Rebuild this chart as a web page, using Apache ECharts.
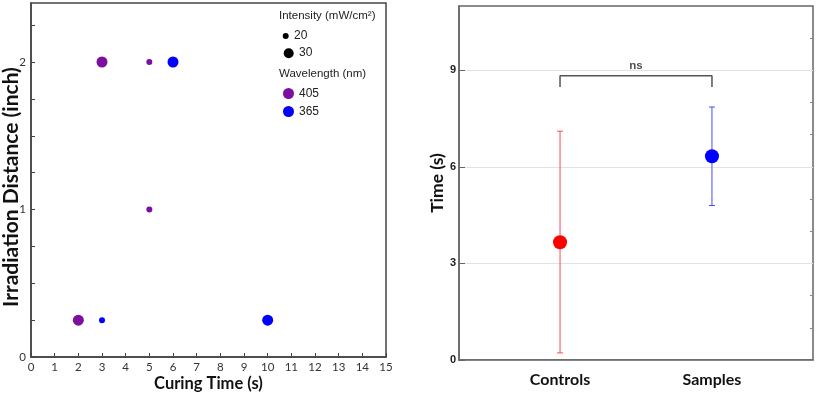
<!DOCTYPE html>
<html>
<head>
<meta charset="utf-8">
<script src="https://cdn.jsdelivr.net/npm/echarts@6/dist/echarts.min.js"></script>
<style>
  html, body { margin: 0; padding: 0; background: #fff; }
  #main { width: 817px; height: 396px; }
</style>
</head>
<body>
<div id="main"></div>
<script>
  // left panel: curing conditions
  var curingTime405 = [3, 5, 5, 2];
  var distance405   = [2, 2, 1, 0.25];
  var intensity405  = [30, 20, 20, 30];
  var curingTime365 = [6, 3, 10];
  var distance365   = [2, 0.25, 0.25];
  var intensity365  = [30, 20, 30];
  var wavelengths   = ['405', '365'];
  var intensities   = ['20', '30'];
  var xTicksLeft    = [0, 1, 2, 3, 4, 5, 6, 7, 8, 9, 10, 11, 12, 13, 14, 15];
  var yLabelsLeft   = [0, 1, 2];
  var yTicksLeft    = [0, 0.25, 0.5, 0.75, 1, 1.25, 1.5, 1.75, 2, 2.25];

  // right panel: time per group
  var groups     = ['Controls', 'Samples'];
  var means      = [3.66, 6.33];
  var lowerBound = [0.22, 4.80];
  var upperBound = [7.11, 7.86];
  var yLabelsRight = [0, 3, 6, 9];
  var yMinorRight  = [1, 2, 4, 5, 7, 8, 10];
  var bracketLeg = 8.48, bracketTop = 8.83, sigY = 9.14, sigText = 'ns';

  var purple = '#7b0fa0', blue = '#0000ff';
  var groupColors = ['#ff0000', '#0000ff'];
  var barColors = ['#ff4a4a', '#4a4aff'];

  function zip(xs, ys, zs) {
    return xs.map(function (x, i) { return [x, ys[i], zs[i]]; });
  }
  function dotSize(d) { return d[2] == 30 ? 11 : 6; }

  var myChart = echarts.init(document.getElementById('main'));

  var option = {
    animation: false,
    textStyle: { fontFamily: 'Lato' },
    grid: [
      { left: 31, top: 3, width: 355, height: 354, show: true, borderColor: '#444', borderWidth: 1.5, outerBoundsMode: 'none' },
      { left: 459, top: 6, width: 354, height: 354, show: true, borderColor: '#666', borderWidth: 1.5, outerBoundsMode: 'none' }
    ],
    legend: {
      data: wavelengths,
      orient: 'vertical',
      left: 283, top: 87.5,
      padding: 0,
      icon: 'circle',
      itemWidth: 11, itemHeight: 11, itemGap: 6,
      textStyle: { fontFamily: 'Liberation Sans', fontSize: 12, color: '#222' }
    },
    graphic: [
      { type: 'text', left: 279, top: 9.5, style: { text: 'Intensity (mW/cm²)', font: '11.5px "Liberation Sans"', fill: '#222' } },
      { type: 'circle', shape: { cx: 285.7, cy: 36, r: 3 }, style: { fill: '#000' } },
      { type: 'text', left: 294, top: 29.5, style: { text: intensities[0], font: '12px "Liberation Sans"', fill: '#222' } },
      { type: 'circle', shape: { cx: 288.7, cy: 53.3, r: 5 }, style: { fill: '#000' } },
      { type: 'text', left: 299, top: 47, style: { text: intensities[1], font: '12px "Liberation Sans"', fill: '#222' } },
      { type: 'text', left: 279, top: 67.5, style: { text: 'Wavelength (nm)', font: '11.5px "Liberation Sans"', fill: '#222' } }
    ],
    xAxis: [
      {
        gridIndex: 0, type: 'value', min: 0, max: 15, interval: 1,
        name: 'Curing Time (s)', nameLocation: 'middle', nameGap: 18, nameMoveOverlap: false,
        nameTextStyle: { fontFamily: 'Lato', fontWeight: 'bold', fontSize: 16.5, color: '#111' },
        axisLine: { lineStyle: { color: '#444', width: 1.5 } },
        axisTick: { inside: true, length: 4, lineStyle: { color: '#444' }, customValues: xTicksLeft },
        axisLabel: { margin: 4, fontSize: 11.5, color: '#333', customValues: xTicksLeft },
        splitLine: { show: false }
      },
      {
        gridIndex: 1, type: 'value', min: 0.335, max: 2.665,
        axisLine: { lineStyle: { color: '#666', width: 1.5 } },
        axisTick: { show: false },
        axisLabel: {
          margin: 12, fontSize: 16, fontWeight: 'bold', color: '#111',
          customValues: [1, 2],
          formatter: function (v) { return groups[Math.round(v) - 1] || ''; }
        },
        splitLine: { show: false }
      }
    ],
    yAxis: [
      {
        gridIndex: 0, type: 'value', min: 0, max: 2.4,
        name: 'Irradiation Distance (inch)', nameLocation: 'middle', nameGap: 9.5, nameMoveOverlap: false,
        nameTextStyle: { fontFamily: 'Lato', fontWeight: 'bold', fontSize: 21, color: '#111', padding: [0, 14, 0, 0] },
        axisLine: { lineStyle: { color: '#444', width: 1.5 } },
        axisTick: { inside: true, length: 4, lineStyle: { color: '#444' }, customValues: yTicksLeft },
        axisLabel: { margin: 5, fontSize: 11.5, color: '#333', customValues: yLabelsLeft },
        splitLine: { show: false }
      },
      {
        gridIndex: 1, type: 'value', min: 0, max: 11, interval: 3,
        name: 'Time (s)', nameLocation: 'middle', nameGap: 13, nameMoveOverlap: false,
        nameTextStyle: { fontFamily: 'Lato', fontWeight: 'bold', fontSize: 17.5, color: '#111' },
        axisLine: { lineStyle: { color: '#666', width: 1.5 } },
        axisTick: { inside: true, length: 6, lineStyle: { color: '#666' }, customValues: yLabelsRight },
        axisLabel: {
          margin: 3, fontSize: 11, fontWeight: 'bold', color: '#222',
          fontFamily: 'Liberation Sans', customValues: yLabelsRight
        },
        splitLine: { show: true, lineStyle: { color: '#e2e2e2', width: 1 } }
      },
      {
        // minor ticks only
        gridIndex: 1, type: 'value', min: 0, max: 11,
        axisLine: { show: false },
        axisTick: { inside: true, length: 3, lineStyle: { color: '#888' }, customValues: yMinorRight },
        axisLabel: { show: false },
        splitLine: { show: false }
      }
    ],
    series: [
      {
        name: wavelengths[0], type: 'scatter', xAxisIndex: 0, yAxisIndex: 0,
        data: zip(curingTime405, distance405, intensity405),
        symbolSize: dotSize,
        itemStyle: { color: purple, opacity: 1 }
      },
      {
        name: wavelengths[1], type: 'scatter', xAxisIndex: 0, yAxisIndex: 0,
        data: zip(curingTime365, distance365, intensity365),
        symbolSize: dotSize,
        itemStyle: { color: blue, opacity: 1 }
      },
      {
        // error bars
        type: 'custom', xAxisIndex: 1, yAxisIndex: 1, z: 2,
        data: groups.map(function (g, i) { return [i + 1, lowerBound[i], upperBound[i]]; }),
        renderItem: function (params, api) {
          var x = api.value(0);
          var lo = api.coord([x, api.value(1)]);
          var hi = api.coord([x, api.value(2)]);
          var st = { stroke: barColors[params.dataIndex], lineWidth: 1 };
          return {
            type: 'group',
            children: [
              { type: 'line', shape: { x1: lo[0], y1: lo[1], x2: hi[0], y2: hi[1] }, style: st },
              { type: 'line', shape: { x1: lo[0] - 3, y1: lo[1], x2: lo[0] + 3, y2: lo[1] }, style: st },
              { type: 'line', shape: { x1: hi[0] - 3, y1: hi[1], x2: hi[0] + 3, y2: hi[1] }, style: st }
            ]
          };
        }
      },
      {
        type: 'scatter', xAxisIndex: 1, yAxisIndex: 1, z: 3,
        data: means.map(function (m, i) {
          return { value: [i + 1, m], itemStyle: { color: groupColors[i] } };
        }),
        symbolSize: 14,
        itemStyle: { opacity: 1 }
      },
      {
        // significance bracket
        type: 'line', xAxisIndex: 1, yAxisIndex: 1,
        data: [[1, bracketLeg], [1, bracketTop], [2, bracketTop], [2, bracketLeg]],
        symbol: 'none',
        lineStyle: { color: '#555', width: 1.5 }
      },
      {
        type: 'scatter', xAxisIndex: 1, yAxisIndex: 1,
        data: [[1.5, sigY]],
        symbolSize: 0,
        label: {
          show: true, position: 'inside', formatter: sigText,
          fontFamily: 'Liberation Sans', fontWeight: 'bold', fontSize: 11.5, color: '#222'
        }
      }
    ]
  };

  myChart.setOption(option);
</script>
</body>
</html>
